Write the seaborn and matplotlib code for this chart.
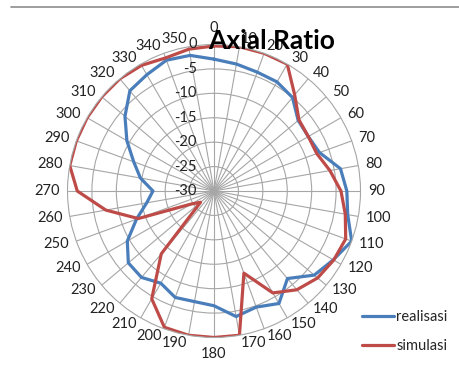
import numpy as np
import pandas as pd
import matplotlib
matplotlib.use("Agg")
import matplotlib.pyplot as plt
from matplotlib.lines import Line2D
import seaborn as sns

# angles (degrees, clockwise from top) and axial ratio values
angles = list(range(0, 360, 10))
realisasi = [-3.0, -3.6, -4.1, -4.2, -5.0, -7.5, -7.7, -7.0, -3.7, -2.8,
             -2.2, 0.0, -1.8, -3.2, -6.6, -3.4, -4.7, -3.9, -6.5, -7.0,
             -6.8, -8.2, -6.9, -7.1, -9.5, -13.1, -16.0, -17.5, -14.7, -12.5,
             -9.4, -6.2, -3.2, -2.5, -1.5, -1.8]
simulasi = [-0.3, 0.0, 0.0, 0.0, -4.3, -7.3, -7.7, -7.6, -5.9, -4.0,
            -2.7, -1.3, -1.7, -2.3, -3.6, -5.9, -12.1, 0.0, 0.0, 0.0,
            -0.3, -4.5, -13.2, -26.4, -24.7, -13.5, -7.5, -2.0, 0.0, 0.0,
            0.0, 0.0, 0.0, -0.3, -1.0, -0.5]
r_ticks = [0, -5, -10, -15, -20, -25, -30]
series_names = ["realisasi", "simulasi"]
colors = ["#4A7EBB", "#BE4B48"]

# long-form frame, each series closed back to its first point
rows = []
for name, vals in zip(series_names, [realisasi, simulasi]):
    th = list(np.deg2rad(angles)) + [2 * np.pi]
    vv = list(vals) + [vals[0]]
    for t, v in zip(th, vv):
        rows.append({"theta": t, "value": v, "series": name})
df = pd.DataFrame(rows)

sns.set_style("white")
plt.rcParams["font.family"] = ["Lato", "DejaVu Sans"]

W, H = 460, 369
fig = plt.figure(figsize=(W / 100, H / 100), dpi=100)

cx, cy, R = 214, 191, 146.5
ax = fig.add_axes([(cx - R) / W, (H - cy - R) / H, 2 * R / W, 2 * R / H],
                  projection="polar")
ax.set_theta_zero_location("N")
ax.set_theta_direction(-1)

sns.lineplot(data=df, x="theta", y="value", hue="series", palette=colors,
             sort=False, estimator=None, linewidth=2.3, ax=ax)

ax.set_ylim(-30, 0)
ax.set_xlabel("")
ax.set_ylabel("")
grid_col = "#A6A6A6"
ax.set_thetagrids(angles, labels=[""] * len(angles))
ax.set_rgrids([-25, -20, -15, -10, -5], labels=[])
ax.grid(True, color=grid_col, linewidth=0.8)
ax.spines["polar"].set_color(grid_col)
ax.spines["polar"].set_linewidth(0.8)

# category labels: Excel style, anchored just outside the ring,
# right/left aligned on each side, centred at top and bottom
for a in angles:
    rad = np.deg2rad(a)
    s, c = np.sin(rad), np.cos(rad)
    if a == 0:
        off, ha, va = 10, "center", "bottom"
    elif a == 180:
        off, ha, va = 10, "center", "top"
    else:
        off, ha, va = 7.5, ("left" if s > 0 else "right"), "center"
    ax.annotate(str(a), xy=(rad, 0),
                xytext=(off * 0.72 * s, off * 0.72 * c),
                textcoords="offset points", ha=ha, va=va,
                fontsize=10.5, color="#222222", annotation_clip=False)

for v in r_ticks:
    ax.annotate(str(v), xy=(0, v), xytext=(-12.5, 0), textcoords="offset points",
                ha="right", va="center", fontsize=10.5, color="#222222")

fig.text(271.5 / W, 1 - 49 / H, "Axial Ratio", ha="center", va="baseline",
         fontsize=19, fontweight="bold", color="black")

sns.move_legend(ax, loc="upper left", bbox_to_anchor=(362 / W, 1 - 310 / H),
                bbox_transform=fig.transFigure, title=None, frameon=False,
                fontsize=10.5, handlelength=2.2, handletextpad=0.15,
                labelspacing=1.05, borderpad=0, borderaxespad=0)

# top border line of the chart area
fig.add_artist(Line2D([11 / W, 1], [1 - 7 / H, 1 - 7 / H], color="#8C8C8C",
                      linewidth=1.2, transform=fig.transFigure))

fig.savefig("out.png", dpi=100)
